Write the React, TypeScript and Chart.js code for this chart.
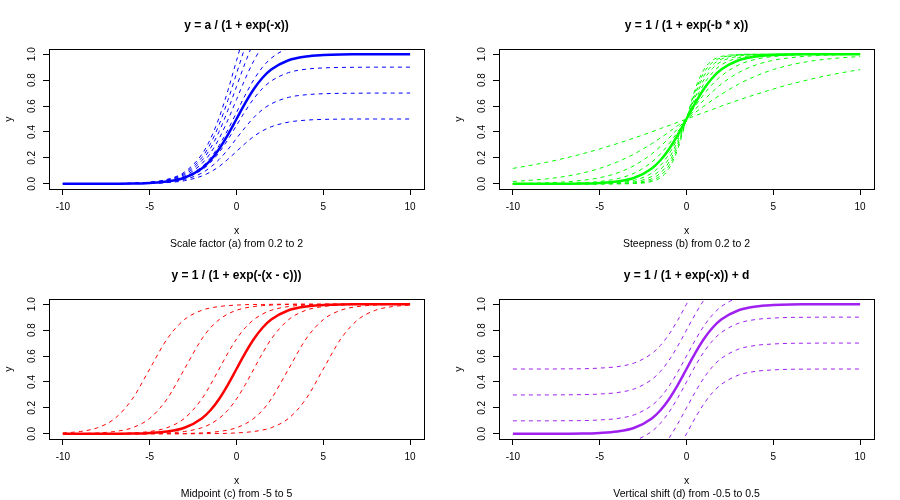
import React, { useEffect, useRef } from 'react';
import { Chart, registerables } from 'chart.js';

Chart.register(...registerables);
Chart.defaults.font.family = '"Liberation Sans", Arial, Helvetica, sans-serif';
Chart.defaults.color = '#000';

// ---------- shared x grid and axis ticks ----------
const X_GRID = [-10, -9, -8, -7, -6, -5, -4, -3, -2, -1.5, -1, -0.5, 0, 0.5, 1, 1.5, 2, 3, 4, 5, 6, 7, 8, 9, 10];
const X_TICKS = [-10, -5, 0, 5, 10];
const Y_TICKS = [0, 0.2, 0.4, 0.6, 0.8, 1.0];

// reference (thick) curve, shared by all four panels
const BASE_CURVE = [0, 0, 0, 0.001, 0.002, 0.007, 0.018, 0.047, 0.119, 0.182, 0.269, 0.378, 0.5, 0.622, 0.731, 0.818, 0.881, 0.953, 0.982, 0.993, 0.998, 0.999, 1, 1, 1];

// ---------- panel 1: scale factor a ----------
const SCALE_A_05 = [0, 0, 0, 0.0005, 0.001, 0.003, 0.009, 0.024, 0.06, 0.091, 0.134, 0.189, 0.25, 0.311, 0.366, 0.409, 0.44, 0.476, 0.491, 0.497, 0.499, 0.5, 0.5, 0.5, 0.5];
const SCALE_A_07 = [0, 0, 0, 0.001, 0.002, 0.005, 0.013, 0.033, 0.083, 0.128, 0.188, 0.264, 0.35, 0.435, 0.512, 0.573, 0.617, 0.667, 0.687, 0.695, 0.698, 0.699, 0.7, 0.7, 0.7];
const SCALE_A_09 = [0, 0, 0, 0.001, 0.002, 0.006, 0.016, 0.042, 0.107, 0.164, 0.242, 0.34, 0.45, 0.56, 0.658, 0.736, 0.793, 0.858, 0.884, 0.894, 0.898, 0.899, 0.9, 0.9, 0.9];
const SCALE_A_11 = [0, 0, 0, 0.001, 0.003, 0.007, 0.02, 0.052, 0.131, 0.2, 0.296, 0.416, 0.55, 0.684, 0.804, 0.9, 0.969, 1.048, 1.08, 1.092, 1.098, 1.099, 1.1, 1.1, 1.1];
const SCALE_A_13 = [0, 0, 0, 0.001, 0.003, 0.009, 0.023, 0.061, 0.155, 0.237, 0.35, 0.491, 0.65, 0.809, 0.95, 1.063, 1.145, 1.239, 1.277, 1.291, 1.297, 1.299, 1.3, 1.3, 1.3];
const SCALE_A_15 = [0, 0, 0, 0.001, 0.004, 0.01, 0.027, 0.071, 0.179, 0.274, 0.403, 0.567, 0.75, 0.933, 1.097, 1.227, 1.321, 1.43, 1.473, 1.49, 1.496, 1.498, 1.5, 1.5, 1.5];
const SCALE_A_17 = [0, 0, 0.001, 0.002, 0.004, 0.011, 0.031, 0.08, 0.202, 0.309, 0.457, 0.643, 0.85, 1.057, 1.243, 1.391, 1.497, 1.62, 1.669, 1.689, 1.696, 1.698, 1.7, 1.7, 1.7];
const SCALE_A_19 = [0, 0, 0.001, 0.002, 0.005, 0.013, 0.034, 0.09, 0.226, 0.346, 0.511, 0.718, 0.95, 1.182, 1.389, 1.555, 1.673, 1.811, 1.866, 1.887, 1.895, 1.898, 1.9, 1.9, 1.9];

// ---------- panel 2: steepness b ----------
const STEEP_B_02 = [0.119, 0.142, 0.168, 0.198, 0.231, 0.269, 0.31, 0.354, 0.401, 0.426, 0.45, 0.475, 0.5, 0.525, 0.55, 0.574, 0.599, 0.646, 0.69, 0.731, 0.769, 0.802, 0.832, 0.858, 0.881];
const STEEP_B_04 = [0.018, 0.027, 0.039, 0.057, 0.083, 0.119, 0.168, 0.231, 0.31, 0.354, 0.401, 0.45, 0.5, 0.55, 0.599, 0.646, 0.69, 0.769, 0.832, 0.881, 0.917, 0.943, 0.961, 0.973, 0.982];
const STEEP_B_06 = [0.002, 0.004, 0.008, 0.015, 0.027, 0.047, 0.083, 0.142, 0.231, 0.289, 0.354, 0.426, 0.5, 0.574, 0.646, 0.711, 0.769, 0.858, 0.917, 0.953, 0.973, 0.985, 0.992, 0.996, 0.998];
const STEEP_B_08 = [0, 0.001, 0.002, 0.004, 0.008, 0.018, 0.039, 0.083, 0.168, 0.231, 0.31, 0.401, 0.5, 0.599, 0.69, 0.769, 0.832, 0.917, 0.961, 0.982, 0.992, 0.996, 0.998, 0.999, 1];
const STEEP_B_10 = [0, 0, 0, 0.001, 0.002, 0.007, 0.018, 0.047, 0.119, 0.182, 0.269, 0.378, 0.5, 0.622, 0.731, 0.818, 0.881, 0.953, 0.982, 0.993, 0.998, 0.999, 1, 1, 1];
const STEEP_B_12 = [0, 0, 0, 0, 0.001, 0.002, 0.008, 0.027, 0.083, 0.142, 0.231, 0.354, 0.5, 0.646, 0.769, 0.858, 0.917, 0.973, 0.992, 0.998, 0.999, 1, 1, 1, 1];
const STEEP_B_14 = [0, 0, 0, 0, 0, 0.001, 0.004, 0.015, 0.057, 0.109, 0.198, 0.332, 0.5, 0.668, 0.802, 0.891, 0.943, 0.985, 0.996, 0.999, 1, 1, 1, 1, 1];
const STEEP_B_16 = [0, 0, 0, 0, 0, 0, 0.002, 0.008, 0.039, 0.083, 0.168, 0.31, 0.5, 0.69, 0.832, 0.917, 0.961, 0.992, 0.998, 1, 1, 1, 1, 1, 1];
const STEEP_B_18 = [0, 0, 0, 0, 0, 0, 0.001, 0.004, 0.027, 0.063, 0.142, 0.289, 0.5, 0.711, 0.858, 0.937, 0.973, 0.996, 0.999, 1, 1, 1, 1, 1, 1];
const STEEP_B_20 = [0, 0, 0, 0, 0, 0, 0, 0.002, 0.018, 0.047, 0.119, 0.269, 0.5, 0.731, 0.881, 0.953, 0.982, 0.998, 1, 1, 1, 1, 1, 1, 1];

// ---------- panel 3: midpoint c ----------
const MID_C_M5 = [0.007, 0.018, 0.047, 0.119, 0.269, 0.5, 0.731, 0.881, 0.953, 0.971, 0.982, 0.989, 0.993, 0.996, 0.998, 0.998, 0.999, 1, 1, 1, 1, 1, 1, 1, 1];
const MID_C_M3 = [0.001, 0.002, 0.007, 0.018, 0.047, 0.119, 0.269, 0.5, 0.731, 0.818, 0.881, 0.924, 0.953, 0.971, 0.982, 0.989, 0.993, 0.998, 0.999, 1, 1, 1, 1, 1, 1];
const MID_C_M1 = [0, 0, 0.001, 0.002, 0.007, 0.018, 0.047, 0.119, 0.269, 0.378, 0.5, 0.622, 0.731, 0.818, 0.881, 0.924, 0.953, 0.982, 0.993, 0.998, 0.999, 1, 1, 1, 1];
const MID_C_P1 = [0, 0, 0, 0, 0.001, 0.002, 0.007, 0.018, 0.047, 0.076, 0.119, 0.182, 0.269, 0.378, 0.5, 0.622, 0.731, 0.881, 0.953, 0.982, 0.993, 0.998, 0.999, 1, 1];
const MID_C_P3 = [0, 0, 0, 0, 0, 0, 0.001, 0.002, 0.007, 0.011, 0.018, 0.029, 0.047, 0.076, 0.119, 0.182, 0.269, 0.5, 0.731, 0.881, 0.953, 0.982, 0.993, 0.998, 0.999];
const MID_C_P5 = [0, 0, 0, 0, 0, 0, 0, 0, 0.001, 0.002, 0.002, 0.004, 0.007, 0.011, 0.018, 0.029, 0.047, 0.119, 0.269, 0.5, 0.731, 0.881, 0.953, 0.982, 0.993];

// ---------- panel 4: vertical shift d ----------
const SHIFT_D_M5 = [-0.5, -0.5, -0.5, -0.499, -0.498, -0.493, -0.482, -0.453, -0.381, -0.318, -0.231, -0.122, 0, 0.122, 0.231, 0.318, 0.381, 0.453, 0.482, 0.493, 0.498, 0.499, 0.5, 0.5, 0.5];
const SHIFT_D_M3 = [-0.3, -0.3, -0.3, -0.299, -0.298, -0.293, -0.282, -0.253, -0.181, -0.118, -0.031, 0.078, 0.2, 0.322, 0.431, 0.518, 0.581, 0.653, 0.682, 0.693, 0.698, 0.699, 0.7, 0.7, 0.7];
const SHIFT_D_M1 = [-0.1, -0.1, -0.1, -0.099, -0.098, -0.093, -0.082, -0.053, 0.019, 0.082, 0.169, 0.278, 0.4, 0.522, 0.631, 0.718, 0.781, 0.853, 0.882, 0.893, 0.898, 0.899, 0.9, 0.9, 0.9];
const SHIFT_D_P1 = [0.1, 0.1, 0.1, 0.101, 0.102, 0.107, 0.118, 0.147, 0.219, 0.282, 0.369, 0.478, 0.6, 0.722, 0.831, 0.918, 0.981, 1.053, 1.082, 1.093, 1.098, 1.099, 1.1, 1.1, 1.1];
const SHIFT_D_P3 = [0.3, 0.3, 0.3, 0.301, 0.302, 0.307, 0.318, 0.347, 0.419, 0.482, 0.569, 0.678, 0.8, 0.922, 1.031, 1.118, 1.181, 1.253, 1.282, 1.293, 1.298, 1.299, 1.3, 1.3, 1.3];
const SHIFT_D_P5 = [0.5, 0.5, 0.5, 0.501, 0.502, 0.507, 0.518, 0.547, 0.619, 0.682, 0.769, 0.878, 1.0, 1.122, 1.231, 1.318, 1.381, 1.453, 1.482, 1.493, 1.498, 1.499, 1.5, 1.5, 1.5];

const PANELS = [
  {
    title: 'y = a / (1 + exp(-x))',
    sub: 'Scale factor (a) from 0.2 to 2',
    color: '#0000FF',
    curves: [SCALE_A_05, SCALE_A_07, SCALE_A_09, SCALE_A_11, SCALE_A_13, SCALE_A_15, SCALE_A_17, SCALE_A_19],
  },
  {
    title: 'y = 1 / (1 + exp(-b * x))',
    sub: 'Steepness (b) from 0.2 to 2',
    color: '#00FF00',
    curves: [STEEP_B_02, STEEP_B_04, STEEP_B_06, STEEP_B_08, STEEP_B_10, STEEP_B_12, STEEP_B_14, STEEP_B_16, STEEP_B_18, STEEP_B_20],
  },
  {
    title: 'y = 1 / (1 + exp(-(x - c)))',
    sub: 'Midpoint (c) from -5 to 5',
    color: '#FF0000',
    curves: [MID_C_M5, MID_C_M3, MID_C_M1, MID_C_P1, MID_C_P3, MID_C_P5],
  },
  {
    title: 'y = 1 / (1 + exp(-x)) + d',
    sub: 'Vertical shift (d) from -0.5 to 0.5',
    color: '#A020F0',
    curves: [SHIFT_D_M5, SHIFT_D_M3, SHIFT_D_M1, SHIFT_D_P1, SHIFT_D_P3, SHIFT_D_P5],
  },
];

const toPoints = (ys: number[]) => X_GRID.map((x, i) => ({ x, y: ys[i] }));

const boxPlugin = {
  id: 'rbox',
  afterDatasetsDraw(chart: any) {
    const { ctx, chartArea: a } = chart;
    const l = Math.round(a.left), t = Math.round(a.top), r = Math.round(a.right), b = Math.round(a.bottom);
    ctx.save();
    ctx.strokeStyle = '#000';
    ctx.lineWidth = 1;
    ctx.strokeRect(l + 0.5, t + 0.5, r - l, b - t);
    ctx.restore();
  },
};

function Panel({ title, sub, color, curves }: { title: string; sub: string; color: string; curves: number[][] }) {
  const ref = useRef<HTMLCanvasElement | null>(null);
  useEffect(() => {
    if (!ref.current) return;
    const dashed = curves.map((c) => ({
      data: toPoints(c),
      borderColor: color,
      borderWidth: 1,
      borderDash: [4, 4],
      pointRadius: 0,
      cubicInterpolationMode: 'monotone' as const,
      fill: false,
    }));
    const solid = {
      data: toPoints(BASE_CURVE),
      borderColor: color,
      borderWidth: 2.5,
      pointRadius: 0,
      cubicInterpolationMode: 'monotone' as const,
      fill: false,
    };
    const gridOpts = {
      display: true,
      drawOnChartArea: false,
      drawTicks: true,
      tickLength: 6,
      color: '#000',
      lineWidth: 1,
    };
    const chart = new Chart(ref.current, {
      type: 'line',
      data: { datasets: [...dashed, solid] as any },
      options: {
        animation: false,
        responsive: false,
        events: [],
        layout: { padding: { left: 0, right: 26, top: 0, bottom: 0 } },
        scales: {
          x: {
            type: 'linear',
            min: -10.8,
            max: 10.8,
            afterBuildTicks: (s: any) => {
              s.ticks = X_TICKS.map((v) => ({ value: v }));
            },
            afterFit: (s: any) => {
              s.height = 61;
            },
            grid: gridOpts,
            border: { display: false },
            ticks: {
              font: { size: 10 },
              color: '#000',
              padding: 6,
              maxRotation: 0,
              minRotation: 0,
              callback: (v: any) => String(v),
            },
            title: {
              display: true,
              text: ['x', sub],
              font: { size: 10.5 },
              color: '#000',
              padding: { top: 0, bottom: 0 },
            },
          },
          y: {
            type: 'linear',
            min: -0.04,
            max: 1.04,
            afterBuildTicks: (s: any) => {
              s.ticks = Y_TICKS.map((v) => ({ value: v }));
            },
            afterFit: (s: any) => {
              s.width = 49;
            },
            grid: gridOpts,
            border: { display: false },
            ticks: {
              font: { size: 10 },
              color: '#000',
              minRotation: 90,
              maxRotation: 90,
              crossAlign: 'center',
              padding: 3.5,
              callback: (v: any) => Number(v).toFixed(1),
            },
            title: {
              display: true,
              text: 'y',
              font: { size: 10.5 },
              color: '#000',
              padding: { top: 3, bottom: 0 },
            },
          },
        },
        plugins: {
          legend: { display: false },
          tooltip: { enabled: false },
          title: {
            display: true,
            text: title,
            fullSize: false,
            color: '#000',
            font: { size: 12, weight: 'bold', lineHeight: 1.25 },
            padding: { top: 18.5, bottom: 15.5 },
          },
        },
      } as any,
      plugins: [boxPlugin],
    });
    return () => chart.destroy();
  }, [title, sub, color, curves]);
  return (
    <div style={{ width: 450, height: 250 }}>
      <canvas ref={ref} width={450} height={250} style={{ display: 'block', width: 450, height: 250 }} />
    </div>
  );
}

export default function App() {
  return (
    <div
      style={{
        position: 'absolute',
        left: 0,
        top: 0,
        width: 900,
        height: 500,
        background: '#fff',
        display: 'flex',
        flexWrap: 'wrap',
      }}
    >
      {PANELS.map((p) => (
        <Panel key={p.title} title={p.title} sub={p.sub} color={p.color} curves={p.curves} />
      ))}
    </div>
  );
}
